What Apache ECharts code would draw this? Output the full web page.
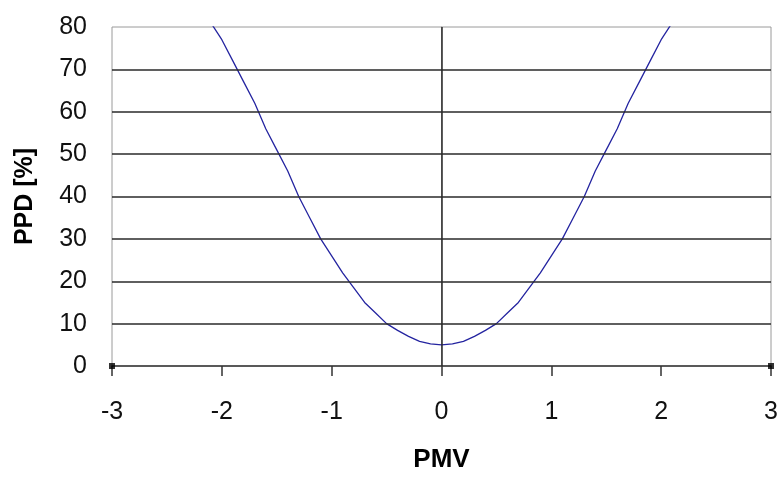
<!DOCTYPE html>
<html>
<head>
<meta charset="utf-8">
<script src="https://cdn.jsdelivr.net/npm/echarts@6/dist/echarts.min.js"></script>
<style>
html,body{margin:0;padding:0;background:#fff;}
#chart{width:781px;height:478px;}
</style>
</head>
<body>
<div id="chart"></div>
<script>
// PMV values (x) and PPD values (y)
var pmv = [-2.2,-2.1,-2.0,-1.9,-1.8,-1.7,-1.6,-1.5,-1.4,-1.3,-1.2,-1.1,-1.0,-0.9,-0.8,-0.7,-0.6,-0.5,-0.4,-0.3,-0.2,-0.1,0,
           0.1,0.2,0.3,0.4,0.5,0.6,0.7,0.8,0.9,1.0,1.1,1.2,1.3,1.4,1.5,1.6,1.7,1.8,1.9,2.0,2.1,2.2];
var ppd = [85,81,77,72,67,62,56,51,46,40,35,30,26,22,18.5,15,12.5,10,8.4,7,5.8,5.2,5,
           5.2,5.8,7,8.4,10,12.5,15,18.5,22,26,30,35,40,46,51,56,62,67,72,77,81,85];
// endpoint markers on the x axis
var markerX = [-3, 3];
var markerY = [0, 0];
// gridlines
var hGrid = [10,20,30,40,50,60,70];
var vGrid = [0];
var xTicks = [-3,-2,-1,0,1,2,3];
var yTicks = [0,10,20,30,40,50,60,70,80];

var curve = pmv.map(function(x,i){return [x, ppd[i]];});
var markers = markerX.map(function(x,i){return [x, markerY[i]];});
var gridLines = hGrid.map(function(v){return {yAxis:v};}).concat(vGrid.map(function(v){return {xAxis:v};}));

var chart = echarts.init(document.getElementById('chart'), null, {renderer:'canvas'});
chart.setOption({
  animation:false,
  backgroundColor:'#fff',
  grid:{left:112, right:10, top:27, bottom:106, show:true, borderColor:'#9a9a9a', borderWidth:1, backgroundColor:'transparent'},
  textStyle:{fontFamily:'Liberation Sans, Arial, sans-serif'},
  xAxis:{
    type:'value', min:xTicks[0], max:xTicks[xTicks.length-1], interval:1,
    name:'PMV', nameLocation:'middle', nameGap:81,
    nameTextStyle:{fontFamily:'Liberation Sans', fontWeight:'bold', fontSize:26, color:'#000'},
    axisLine:{show:true, onZero:false, lineStyle:{color:'#333', width:1.5}},
    axisTick:{show:true, inside:false, length:10, lineStyle:{color:'#333', width:1.5}},
    axisLabel:{margin:34, fontSize:25, color:'#111', fontFamily:'Liberation Sans'},
    splitLine:{show:false}
  },
  yAxis:{
    type:'value', min:yTicks[0], max:yTicks[yTicks.length-1], interval:10,
    name:'PPD [%]', nameLocation:'middle', nameGap:74, nameRotate:90,
    nameTextStyle:{fontFamily:'Liberation Sans', fontWeight:'bold', fontSize:25, color:'#000'},
    axisLine:{show:true, lineStyle:{color:'#9a9a9a', width:1}},
    axisTick:{show:false},
    axisLabel:{margin:25, fontSize:25, color:'#111', fontFamily:'Liberation Sans'},
    splitLine:{show:false}
  },
  series:[
    {
      type:'line', data:curve, showSymbol:false, smooth:false, clip:true,
      lineStyle:{color:'#2424a0', width:1.3},
      markLine:{
        silent:true, symbol:['none','none'], label:{show:false},
        lineStyle:{color:'#2a2a2a', width:1.5, type:'solid'},
        data:gridLines
      },
      z:3
    },
    {
      type:'scatter', data:markers, symbol:'rect', symbolSize:6,
      itemStyle:{color:'#000'}, clip:false, z:4
    }
  ]
});
</script>
</body>
</html>
